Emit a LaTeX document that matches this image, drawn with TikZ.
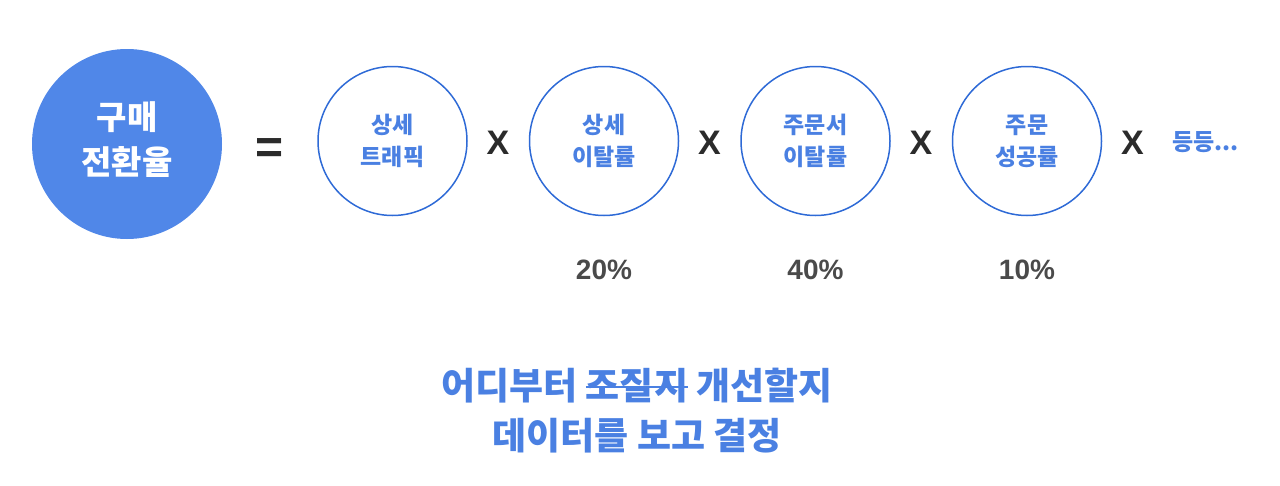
\documentclass[tikz,border=0pt]{standalone}
\usepackage{fontspec}
\newfontfamily\krfont{Noto Sans CJK KR}
\newfontfamily\lsfont{Liberation Sans}
\definecolor{rateblue}{HTML}{5087E8}
\definecolor{lineblue}{HTML}{2E6AD6}
\definecolor{textblue}{HTML}{4A80E2}
\definecolor{pctgray}{HTML}{4A4A4A}
\definecolor{opgray}{HTML}{2B2B2B}
\newcommand\strk[1]{\setbox0\hbox{#1}\rlap{\rule[0.32em]{\wd0}{0.045em}}\box0\relax}
\tikzset{
  stepcirc/.style={circle,draw=lineblue,line width=1.5pt,minimum size=149pt,inner sep=0pt,
    text=textblue,align=center,font=\krfont\bfseries\fontsize{23}{32}\selectfont},
  optext/.style={text=opgray,font=\lsfont\bfseries\fontsize{34}{40}\selectfont},
  pcttext/.style={text=pctgray,font=\lsfont\bfseries\fontsize{28}{32}\selectfont}
}
\begin{document}
\begin{tikzpicture}[x=1pt,y=-1pt]
  \useasboundingbox (0,0) rectangle (1280,485);
  % 구매 전환율
  \node[circle,fill=rateblue,minimum size=190pt,inner sep=0pt] (rate) at (127,144) {};
  \node[text=white,align=center,font=\krfont\bfseries\fontsize{33}{45}\selectfont] (ratetxt) at (127,140) {구매\\전환율};
  \node[optext,font=\lsfont\bfseries\fontsize{48}{50}\selectfont] (eq) at (270,151) {=};
  % 단계별 원
  \foreach \t/\p [count=\i] in {{상세\\트래픽}/{},{상세\\이탈률}/20\%,{주문서\\이탈률}/40\%,{주문\\성공률}/10\%}{
      \pgfmathsetmacro{\cx}{392.5+211.5*(\i-1)}
      \node[stepcirc] (s\i) at (\cx,141) {\t};
      \node[optext] (x\i) at (\cx+105.5,143) {X};
      \node[pcttext] (p\i) at (\cx,270) {\p};
    }
  \node[anchor=west,inner sep=0pt,text=textblue,font=\krfont\bfseries\fontsize{23}{26}\selectfont] (etc) at (1172,142) {등등...};
  % 결론
  \node[align=center,text=textblue,font=\krfont\bfseries\fontsize{37}{50}\selectfont] (note) at (637,411)
    {어디부터 \strk{조질지} 개선할지\\데이터를 보고 결정};
\end{tikzpicture}
\end{document}
